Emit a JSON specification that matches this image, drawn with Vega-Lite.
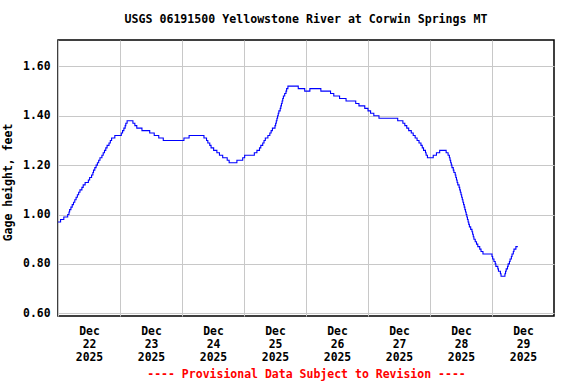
{
  "$schema": "https://vega.github.io/schema/vega-lite/v6.json",
  "autosize": "none",
  "width": 496,
  "height": 276,
  "padding": {"left": 58, "top": 40, "right": 22, "bottom": 68},
  "background": "white",
  "title": {
    "text": "USGS 06191500 Yellowstone River at Corwin Springs MT",
    "font": "DejaVu Sans Mono",
    "fontSize": 11.6,
    "fontWeight": "bold",
    "color": "black",
    "anchor": "middle",
    "offset": 14
  },
  "config": {
    "view": {"stroke": "black", "strokeWidth": 1.5},
    "axis": {
      "labelFont": "DejaVu Sans Mono",
      "labelFontWeight": "bold",
      "labelFontSize": 11.4,
      "labelColor": "black",
      "titleFont": "DejaVu Sans Mono",
      "titleFontWeight": "bold",
      "titleFontSize": 11.5,
      "gridColor": "#C8C8C8",
      "gridWidth": 1,
      "gridOpacity": 1,
      "ticks": false,
      "domain": false
    }
  },
  "data": {
    "values": [
      {"t": "2025-12-22T00:00", "v": 0.97},
      {"t": "2025-12-22T01:00", "v": 0.98},
      {"t": "2025-12-22T02:15", "v": 0.99},
      {"t": "2025-12-22T03:45", "v": 1.00},
      {"t": "2025-12-22T04:15", "v": 1.01},
      {"t": "2025-12-22T04:30", "v": 1.02},
      {"t": "2025-12-22T05:00", "v": 1.03},
      {"t": "2025-12-22T05:30", "v": 1.04},
      {"t": "2025-12-22T06:00", "v": 1.05},
      {"t": "2025-12-22T06:30", "v": 1.06},
      {"t": "2025-12-22T07:00", "v": 1.07},
      {"t": "2025-12-22T07:30", "v": 1.08},
      {"t": "2025-12-22T08:00", "v": 1.09},
      {"t": "2025-12-22T08:30", "v": 1.10},
      {"t": "2025-12-22T09:15", "v": 1.11},
      {"t": "2025-12-22T09:45", "v": 1.12},
      {"t": "2025-12-22T10:30", "v": 1.13},
      {"t": "2025-12-22T11:45", "v": 1.14},
      {"t": "2025-12-22T12:15", "v": 1.15},
      {"t": "2025-12-22T13:00", "v": 1.16},
      {"t": "2025-12-22T13:30", "v": 1.17},
      {"t": "2025-12-22T13:45", "v": 1.18},
      {"t": "2025-12-22T14:15", "v": 1.19},
      {"t": "2025-12-22T14:45", "v": 1.20},
      {"t": "2025-12-22T15:15", "v": 1.21},
      {"t": "2025-12-22T15:45", "v": 1.22},
      {"t": "2025-12-22T16:15", "v": 1.23},
      {"t": "2025-12-22T17:00", "v": 1.24},
      {"t": "2025-12-22T17:30", "v": 1.25},
      {"t": "2025-12-22T18:00", "v": 1.26},
      {"t": "2025-12-22T18:30", "v": 1.27},
      {"t": "2025-12-22T19:00", "v": 1.28},
      {"t": "2025-12-22T19:45", "v": 1.29},
      {"t": "2025-12-22T20:15", "v": 1.30},
      {"t": "2025-12-22T20:45", "v": 1.31},
      {"t": "2025-12-22T22:00", "v": 1.32},
      {"t": "2025-12-23T00:30", "v": 1.33},
      {"t": "2025-12-23T01:00", "v": 1.34},
      {"t": "2025-12-23T01:30", "v": 1.35},
      {"t": "2025-12-23T02:00", "v": 1.36},
      {"t": "2025-12-23T02:15", "v": 1.37},
      {"t": "2025-12-23T02:45", "v": 1.38},
      {"t": "2025-12-23T05:00", "v": 1.37},
      {"t": "2025-12-23T05:45", "v": 1.36},
      {"t": "2025-12-23T06:30", "v": 1.35},
      {"t": "2025-12-23T08:30", "v": 1.34},
      {"t": "2025-12-23T11:30", "v": 1.33},
      {"t": "2025-12-23T13:15", "v": 1.32},
      {"t": "2025-12-23T15:00", "v": 1.31},
      {"t": "2025-12-23T16:45", "v": 1.30},
      {"t": "2025-12-24T00:45", "v": 1.31},
      {"t": "2025-12-24T02:45", "v": 1.32},
      {"t": "2025-12-24T08:30", "v": 1.31},
      {"t": "2025-12-24T09:30", "v": 1.30},
      {"t": "2025-12-24T10:00", "v": 1.29},
      {"t": "2025-12-24T10:45", "v": 1.28},
      {"t": "2025-12-24T11:15", "v": 1.27},
      {"t": "2025-12-24T12:15", "v": 1.26},
      {"t": "2025-12-24T13:30", "v": 1.25},
      {"t": "2025-12-24T14:30", "v": 1.24},
      {"t": "2025-12-24T15:45", "v": 1.23},
      {"t": "2025-12-24T17:30", "v": 1.22},
      {"t": "2025-12-24T18:15", "v": 1.21},
      {"t": "2025-12-24T21:15", "v": 1.22},
      {"t": "2025-12-24T23:30", "v": 1.23},
      {"t": "2025-12-25T00:15", "v": 1.24},
      {"t": "2025-12-25T04:00", "v": 1.25},
      {"t": "2025-12-25T05:00", "v": 1.26},
      {"t": "2025-12-25T06:00", "v": 1.27},
      {"t": "2025-12-25T06:30", "v": 1.28},
      {"t": "2025-12-25T07:15", "v": 1.29},
      {"t": "2025-12-25T07:45", "v": 1.30},
      {"t": "2025-12-25T08:15", "v": 1.31},
      {"t": "2025-12-25T09:15", "v": 1.32},
      {"t": "2025-12-25T10:00", "v": 1.33},
      {"t": "2025-12-25T10:30", "v": 1.34},
      {"t": "2025-12-25T11:00", "v": 1.35},
      {"t": "2025-12-25T12:00", "v": 1.36},
      {"t": "2025-12-25T12:15", "v": 1.37},
      {"t": "2025-12-25T12:30", "v": 1.38},
      {"t": "2025-12-25T12:45", "v": 1.39},
      {"t": "2025-12-25T13:00", "v": 1.40},
      {"t": "2025-12-25T13:15", "v": 1.41},
      {"t": "2025-12-25T13:30", "v": 1.42},
      {"t": "2025-12-25T14:00", "v": 1.43},
      {"t": "2025-12-25T14:15", "v": 1.44},
      {"t": "2025-12-25T14:30", "v": 1.45},
      {"t": "2025-12-25T14:45", "v": 1.46},
      {"t": "2025-12-25T15:00", "v": 1.47},
      {"t": "2025-12-25T15:15", "v": 1.48},
      {"t": "2025-12-25T15:45", "v": 1.49},
      {"t": "2025-12-25T16:15", "v": 1.50},
      {"t": "2025-12-25T16:30", "v": 1.51},
      {"t": "2025-12-25T17:00", "v": 1.52},
      {"t": "2025-12-25T21:00", "v": 1.51},
      {"t": "2025-12-25T23:30", "v": 1.50},
      {"t": "2025-12-26T01:30", "v": 1.51},
      {"t": "2025-12-26T05:45", "v": 1.50},
      {"t": "2025-12-26T09:30", "v": 1.49},
      {"t": "2025-12-26T10:45", "v": 1.48},
      {"t": "2025-12-26T13:00", "v": 1.47},
      {"t": "2025-12-26T15:30", "v": 1.46},
      {"t": "2025-12-26T19:15", "v": 1.45},
      {"t": "2025-12-26T20:30", "v": 1.44},
      {"t": "2025-12-26T22:45", "v": 1.43},
      {"t": "2025-12-27T00:00", "v": 1.42},
      {"t": "2025-12-27T01:00", "v": 1.41},
      {"t": "2025-12-27T02:15", "v": 1.40},
      {"t": "2025-12-27T04:15", "v": 1.39},
      {"t": "2025-12-27T11:30", "v": 1.38},
      {"t": "2025-12-27T13:30", "v": 1.37},
      {"t": "2025-12-27T14:15", "v": 1.36},
      {"t": "2025-12-27T15:00", "v": 1.35},
      {"t": "2025-12-27T15:45", "v": 1.34},
      {"t": "2025-12-27T16:45", "v": 1.33},
      {"t": "2025-12-27T17:30", "v": 1.32},
      {"t": "2025-12-27T18:15", "v": 1.31},
      {"t": "2025-12-27T19:00", "v": 1.30},
      {"t": "2025-12-27T19:45", "v": 1.29},
      {"t": "2025-12-27T20:30", "v": 1.28},
      {"t": "2025-12-27T21:00", "v": 1.27},
      {"t": "2025-12-27T21:30", "v": 1.26},
      {"t": "2025-12-27T22:15", "v": 1.25},
      {"t": "2025-12-27T22:30", "v": 1.24},
      {"t": "2025-12-27T23:00", "v": 1.23},
      {"t": "2025-12-28T01:15", "v": 1.24},
      {"t": "2025-12-28T02:30", "v": 1.25},
      {"t": "2025-12-28T03:45", "v": 1.26},
      {"t": "2025-12-28T06:15", "v": 1.25},
      {"t": "2025-12-28T07:00", "v": 1.24},
      {"t": "2025-12-28T07:30", "v": 1.23},
      {"t": "2025-12-28T07:45", "v": 1.22},
      {"t": "2025-12-28T08:00", "v": 1.21},
      {"t": "2025-12-28T08:15", "v": 1.20},
      {"t": "2025-12-28T08:30", "v": 1.19},
      {"t": "2025-12-28T09:00", "v": 1.18},
      {"t": "2025-12-28T09:15", "v": 1.17},
      {"t": "2025-12-28T09:45", "v": 1.16},
      {"t": "2025-12-28T10:00", "v": 1.15},
      {"t": "2025-12-28T10:15", "v": 1.14},
      {"t": "2025-12-28T10:30", "v": 1.13},
      {"t": "2025-12-28T10:45", "v": 1.12},
      {"t": "2025-12-28T11:15", "v": 1.11},
      {"t": "2025-12-28T11:30", "v": 1.10},
      {"t": "2025-12-28T11:45", "v": 1.09},
      {"t": "2025-12-28T12:00", "v": 1.08},
      {"t": "2025-12-28T12:15", "v": 1.07},
      {"t": "2025-12-28T12:30", "v": 1.06},
      {"t": "2025-12-28T12:45", "v": 1.05},
      {"t": "2025-12-28T13:00", "v": 1.04},
      {"t": "2025-12-28T13:15", "v": 1.03},
      {"t": "2025-12-28T13:30", "v": 1.02},
      {"t": "2025-12-28T13:45", "v": 1.01},
      {"t": "2025-12-28T14:00", "v": 1.00},
      {"t": "2025-12-28T14:15", "v": 0.99},
      {"t": "2025-12-28T14:30", "v": 0.98},
      {"t": "2025-12-28T14:45", "v": 0.97},
      {"t": "2025-12-28T15:00", "v": 0.96},
      {"t": "2025-12-28T15:15", "v": 0.95},
      {"t": "2025-12-28T15:45", "v": 0.94},
      {"t": "2025-12-28T16:15", "v": 0.93},
      {"t": "2025-12-28T16:30", "v": 0.92},
      {"t": "2025-12-28T16:45", "v": 0.91},
      {"t": "2025-12-28T17:00", "v": 0.90},
      {"t": "2025-12-28T17:30", "v": 0.89},
      {"t": "2025-12-28T18:00", "v": 0.88},
      {"t": "2025-12-28T18:30", "v": 0.87},
      {"t": "2025-12-28T19:15", "v": 0.86},
      {"t": "2025-12-28T19:45", "v": 0.85},
      {"t": "2025-12-28T20:30", "v": 0.84},
      {"t": "2025-12-29T00:00", "v": 0.83},
      {"t": "2025-12-29T00:15", "v": 0.82},
      {"t": "2025-12-29T00:45", "v": 0.81},
      {"t": "2025-12-29T01:15", "v": 0.80},
      {"t": "2025-12-29T01:30", "v": 0.79},
      {"t": "2025-12-29T02:15", "v": 0.78},
      {"t": "2025-12-29T02:30", "v": 0.77},
      {"t": "2025-12-29T03:15", "v": 0.76},
      {"t": "2025-12-29T03:30", "v": 0.75},
      {"t": "2025-12-29T05:00", "v": 0.76},
      {"t": "2025-12-29T05:15", "v": 0.77},
      {"t": "2025-12-29T05:30", "v": 0.78},
      {"t": "2025-12-29T06:00", "v": 0.79},
      {"t": "2025-12-29T06:15", "v": 0.80},
      {"t": "2025-12-29T06:45", "v": 0.81},
      {"t": "2025-12-29T07:00", "v": 0.82},
      {"t": "2025-12-29T07:30", "v": 0.83},
      {"t": "2025-12-29T07:45", "v": 0.84},
      {"t": "2025-12-29T08:15", "v": 0.85},
      {"t": "2025-12-29T08:30", "v": 0.86},
      {"t": "2025-12-29T09:15", "v": 0.87},
      {"t": "2025-12-29T10:00", "v": 0.87}
    ]
  },
  "mark": {"type": "line", "color": "#0000FF", "strokeWidth": 1.1, "interpolate": "step-after"},
  "encoding": {
    "x": {
      "field": "t",
      "type": "temporal",
      "scale": {
        "domain": [
          {"year": 2025, "month": 12, "date": 22},
          {"year": 2025, "month": 12, "date": 30}
        ]
      },
      "axis": {
        "values": [
          {"year": 2025, "month": 12, "date": 22},
          {"year": 2025, "month": 12, "date": 23},
          {"year": 2025, "month": 12, "date": 24},
          {"year": 2025, "month": 12, "date": 25},
          {"year": 2025, "month": 12, "date": 26},
          {"year": 2025, "month": 12, "date": 27},
          {"year": 2025, "month": 12, "date": 28},
          {"year": 2025, "month": 12, "date": 29}
        ],
        "labelExpr": "[timeFormat(datum.value, '%b'), timeFormat(datum.value, '%d'), timeFormat(datum.value, '%Y')]",
        "labelOffset": 31,
        "labelFlush": false,
        "labelOverlap": false,
        "labelPadding": 9,
        "labelLineHeight": 13,
        "labelAlign": "center",
        "grid": true,
        "title": "---- Provisional Data Subject to Revision ----",
        "titleColor": "#FF0000",
        "titlePadding": 6,
        "titleX": 248
      }
    },
    "y": {
      "field": "v",
      "type": "quantitative",
      "scale": {"domain": [0.589, 1.707], "nice": false, "zero": false},
      "axis": {
        "values": [0.6, 0.8, 1.0, 1.2, 1.4, 1.6],
        "format": ".2f",
        "grid": true,
        "labelPadding": 8,
        "title": "Gage height, feet",
        "titlePadding": 9,
        "titleY": 142
      }
    }
  }
}
